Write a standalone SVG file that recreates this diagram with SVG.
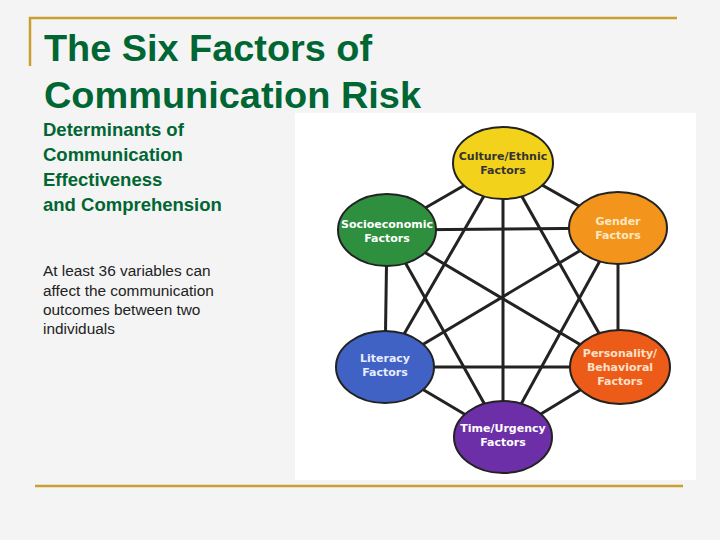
<svg xmlns="http://www.w3.org/2000/svg" width="720" height="540" viewBox="0 0 720 540">
<style>
.t{font-family:"Liberation Sans",Arial,sans-serif;fill:#006633;font-weight:bold}
.b{font-family:"Liberation Sans",Arial,sans-serif;fill:#222;font-size:15.4px}
.n{stroke:#222;stroke-width:2}
.l{font-family:"DejaVu Sans",sans-serif;font-weight:bold;font-size:11px;text-anchor:middle;fill:#fff}
#conn line{stroke:#222;stroke-width:3}
</style>
<rect width="720" height="540" fill="#f4f4f4"/>
<path d="M30 66V18H677" fill="none" stroke="#c9a030" stroke-width="2.5"/>
<line x1="35" y1="486" x2="683" y2="486" stroke="#c9a030" stroke-width="2.5"/>
<text class="t" x="44" y="61" font-size="36" textLength="328" lengthAdjust="spacingAndGlyphs">The Six Factors of</text>
<text class="t" x="44" y="108" font-size="36" textLength="377" lengthAdjust="spacingAndGlyphs">Communication Risk</text>
<text class="t" font-size="18.5"><tspan x="43" y="136">Determinants of</tspan><tspan x="43" y="161">Communication</tspan><tspan x="43" y="186">Effectiveness</tspan><tspan x="43" y="211">and Comprehension</tspan></text>
<text class="b"><tspan x="43" y="276">At least 36 variables can</tspan><tspan x="43" y="296">affect the communication</tspan><tspan x="43" y="315">outcomes between two</tspan><tspan x="43" y="334">individuals</tspan></text>
<rect x="295" y="113" width="401" height="367" fill="#fff"/>
<g id="conn">
<line x1="503" y1="163" x2="387" y2="230"/><line x1="503" y1="163" x2="618" y2="228"/><line x1="503" y1="163" x2="385" y2="367"/><line x1="503" y1="163" x2="618" y2="367"/><line x1="503" y1="163" x2="503" y2="437"/>
<line x1="387" y1="230" x2="618" y2="228"/><line x1="387" y1="230" x2="385" y2="367"/><line x1="387" y1="230" x2="618" y2="367"/><line x1="387" y1="230" x2="503" y2="437"/>
<line x1="618" y1="228" x2="385" y2="367"/><line x1="618" y1="228" x2="618" y2="367"/><line x1="618" y1="228" x2="503" y2="437"/>
<line x1="385" y1="367" x2="618" y2="367"/><line x1="385" y1="367" x2="503" y2="437"/>
<line x1="618" y1="367" x2="503" y2="437"/>
</g>
<g id="culture"><ellipse class="n" cx="503" cy="163" rx="50" ry="36" fill="#f2d21a"/><text class="l" x="503" y="160" style="fill:#333">Culture/Ethnic</text><text class="l" x="503" y="174" style="fill:#333">Factors</text></g>
<g id="socio"><ellipse class="n" cx="387" cy="230" rx="49" ry="36" fill="#2e8f3e"/><text class="l" x="387" y="228">Socioeconomic</text><text class="l" x="387" y="242">Factors</text></g>
<g id="gender"><ellipse class="n" cx="618" cy="228" rx="49" ry="36" fill="#f3941c"/><text class="l" x="618" y="225" style="fill:#fde8c0">Gender</text><text class="l" x="618" y="239" style="fill:#fde8c0">Factors</text></g>
<g id="literacy"><ellipse class="n" cx="385" cy="367" rx="49" ry="36" fill="#3f62c4"/><text class="l" x="385" y="362" style="fill:#e8ecff">Literacy</text><text class="l" x="385" y="376" style="fill:#e8ecff">Factors</text></g>
<g id="personality"><ellipse class="n" cx="620" cy="367" rx="50" ry="37" fill="#ec5b18"/><text class="l" x="620" y="357" style="fill:#fde0c8">Personality/</text><text class="l" x="620" y="371" style="fill:#fde0c8">Behavioral</text><text class="l" x="620" y="385" style="fill:#fde0c8">Factors</text></g>
<g id="time"><ellipse class="n" cx="503" cy="437" rx="49" ry="36" fill="#6d2fa8"/><text class="l" x="503" y="432">Time/Urgency</text><text class="l" x="503" y="446">Factors</text></g>
</svg>
